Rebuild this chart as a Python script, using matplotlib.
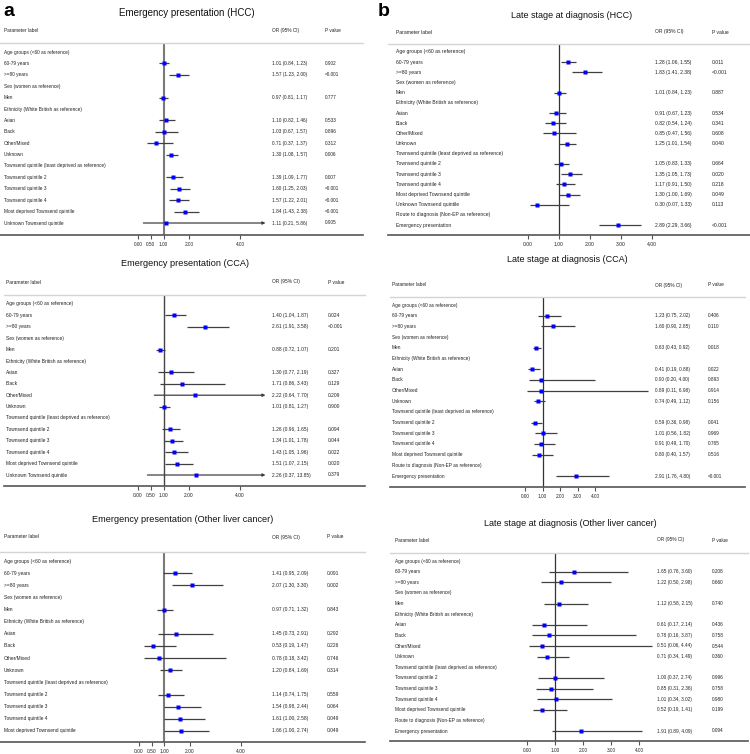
import numpy as np
import matplotlib
matplotlib.use("Agg")
import matplotlib.pyplot as plt
from matplotlib.transforms import blended_transform_factory

plt.rcParams['font.family'] = ['Liberation Sans', 'DejaVu Sans']

nan = np.nan
H_AGE = "Age groups (<60 as reference)"
H_SEX = "Sex (women as reference)"
H_ETH = "Ethnicity (White British as reference)"
H_TQ = "Townsend quintile (least deprived as reference)"
H_RT = "Route to diagnosis (Non-EP as reference)"

# ---------------- Emergency presentation (HCC) ----------------
ep_hcc_labels = [H_AGE, "60-79 years", ">=80 years", H_SEX, "Men", H_ETH, "Asian", "Black",
                 "Other/Mixed", "Unknown", H_TQ, "Townsend quintile 2", "Townsend quintile 3",
                 "Townsend quintile 4", "Most deprived Townsend quintile", "Unknown Townsend quintile"]
ep_hcc_or = [nan, 1.01, 1.57, nan, 0.97, nan, 1.10, 1.03, 0.71, 1.30, nan, 1.39, 1.60, 1.57, 1.84, 1.11]
ep_hcc_lo = [nan, 0.84, 1.23, nan, 0.81, nan, 0.82, 0.67, 0.37, 1.08, nan, 1.09, 1.25, 1.22, 1.43, 0.21]
ep_hcc_hi = [nan, 1.23, 2.00, nan, 1.17, nan, 1.46, 1.57, 1.37, 1.57, nan, 1.77, 2.03, 2.01, 2.38, 5.86]
ep_hcc_p = ["", "0.902", "<0.001", "", "0.777", "", "0.533", "0.896", "0.312", "0.006", "",
            "0.007", "<0.001", "<0.001", "<0.001", "0.905"]

# ---------------- Emergency presentation (CCA) ----------------
ep_cca_labels = list(ep_hcc_labels)
ep_cca_or = [nan, 1.40, 2.61, nan, 0.88, nan, 1.30, 1.71, 2.22, 1.01, nan, 1.26, 1.34, 1.43, 1.51, 2.26]
ep_cca_lo = [nan, 1.04, 1.91, nan, 0.72, nan, 0.77, 0.86, 0.64, 0.81, nan, 0.96, 1.01, 1.05, 1.07, 0.37]
ep_cca_hi = [nan, 1.87, 3.58, nan, 1.07, nan, 2.19, 3.43, 7.70, 1.27, nan, 1.65, 1.78, 1.96, 2.15, 13.85]
ep_cca_p = ["", "0.024", "<0.001", "", "0.201", "", "0.327", "0.129", "0.209", "0.900", "",
            "0.094", "0.044", "0.022", "0.020", "0.379"]

# ---------------- Emergency presentation (Other liver cancer) ----------------
ep_oth_labels = ep_hcc_labels[:-1]
ep_oth_or = [nan, 1.41, 2.07, nan, 0.97, nan, 1.45, 0.53, 0.78, 1.20, nan, 1.14, 1.54, 1.61, 1.66]
ep_oth_lo = [nan, 0.95, 1.30, nan, 0.71, nan, 0.73, 0.19, 0.18, 0.84, nan, 0.74, 0.98, 1.00, 1.00]
ep_oth_hi = [nan, 2.09, 3.30, nan, 1.32, nan, 2.91, 1.47, 3.42, 1.69, nan, 1.75, 2.44, 2.58, 2.74]
ep_oth_p = ["", "0.091", "0.002", "", "0.843", "", "0.292", "0.226", "0.746", "0.314", "",
            "0.559", "0.064", "0.049", "0.049"]

# ---------------- Late stage at diagnosis (HCC) ----------------
ls_hcc_labels = ep_hcc_labels + [H_RT, "Emergency presentation"]
ls_hcc_or = [nan, 1.28, 1.83, nan, 1.01, nan, 0.91, 0.82, 0.85, 1.25, nan, 1.05, 1.35, 1.17, 1.30, 0.30, nan, 2.89]
ls_hcc_lo = [nan, 1.06, 1.41, nan, 0.84, nan, 0.67, 0.54, 0.47, 1.01, nan, 0.83, 1.05, 0.91, 1.00, 0.07, nan, 2.29]
ls_hcc_hi = [nan, 1.55, 2.38, nan, 1.23, nan, 1.23, 1.24, 1.56, 1.54, nan, 1.33, 1.73, 1.50, 1.69, 1.33, nan, 3.66]
ls_hcc_p = ["", "0.011", "<0.001", "", "0.887", "", "0.534", "0.341", "0.608", "0.040", "",
            "0.664", "0.020", "0.218", "0.049", "0.113", "", "<0.001"]

# ---------------- Late stage at diagnosis (CCA) ----------------
ls_cca_labels = ep_hcc_labels[:-1] + [H_RT, "Emergency presentation"]
ls_cca_or = [nan, 1.23, 1.60, nan, 0.63, nan, 0.41, 0.90, 0.89, 0.74, nan, 0.59, 1.01, 0.91, 0.80, nan, 2.91]
ls_cca_lo = [nan, 0.75, 0.90, nan, 0.43, nan, 0.19, 0.20, 0.11, 0.49, nan, 0.36, 0.56, 0.49, 0.40, nan, 1.76]
ls_cca_hi = [nan, 2.02, 2.85, nan, 0.92, nan, 0.88, 4.00, 6.98, 1.12, nan, 0.98, 1.82, 1.70, 1.57, nan, 4.80]
ls_cca_p = ["", "0.406", "0.110", "", "0.018", "", "0.022", "0.893", "0.914", "0.156", "",
            "0.041", "0.969", "0.765", "0.516", "", "<0.001"]

# ---------------- Late stage at diagnosis (Other liver cancer) ----------------
ls_oth_labels = list(ls_cca_labels)
ls_oth_or = [nan, 1.65, 1.22, nan, 1.12, nan, 0.61, 0.78, 0.51, 0.71, nan, 1.00, 0.85, 1.01, 0.52, nan, 1.91]
ls_oth_lo = [nan, 0.76, 0.50, nan, 0.58, nan, 0.17, 0.16, 0.06, 0.34, nan, 0.37, 0.31, 0.34, 0.19, nan, 0.89]
ls_oth_hi = [nan, 3.60, 2.98, nan, 2.15, nan, 2.14, 3.87, 4.44, 1.49, nan, 2.74, 2.36, 3.02, 1.41, nan, 4.09]
ls_oth_p = ["", "0.208", "0.660", "", "0.740", "", "0.436", "0.758", "0.544", "0.360", "",
            "0.996", "0.758", "0.980", "0.199", "", "0.094"]

ticks_a = [0.0, 0.5, 1.0, 2.0, 4.0]
ticks_b = [0.0, 1.0, 2.0, 3.0, 4.0]

W, Hh = 750, 754
fig = plt.figure(figsize=(7.5, 7.54), dpi=100)

panels = [
    dict(title="Emergency presentation (HCC)", tsize=7.0, tx=187, ty=13,
         data=(ep_hcc_labels, ep_hcc_or, ep_hcc_lo, ep_hcc_hi, ep_hcc_p),
         left=0, right=363, x0=138, ppu=25.5, header_y=30, hline_y=43, first=52, gap=11.4,
         axis_y=235, ticks=ticks_a, clip=5.0, px_lab=4, px_or=272, px_p=325, fs=3.45,
         refc='#7a7a7a', reflw=1.5),
    dict(title="Emergency presentation (CCA)", tsize=6.6, tx=185, ty=264,
         data=(ep_cca_labels, ep_cca_or, ep_cca_lo, ep_cca_hi, ep_cca_p),
         left=4, right=365, x0=138, ppu=25.5, header_y=282, hline_y=295, first=304, gap=11.4,
         axis_y=486, ticks=ticks_a, clip=5.0, px_lab=6, px_or=272, px_p=328, fs=3.5,
         refc='#444444', reflw=1.0),
    dict(title="Emergency presentation (Other liver cancer)", tsize=6.6, tx=183, ty=519,
         data=(ep_oth_labels, ep_oth_or, ep_oth_lo, ep_oth_hi, ep_oth_p),
         left=0, right=365, x0=139, ppu=25.5, header_y=537, hline_y=552, first=561, gap=12.14,
         axis_y=742, ticks=ticks_a, clip=5.0, px_lab=4, px_or=272, px_p=327, fs=3.5,
         refc='#7a7a7a', reflw=1.5),
    dict(title="Late stage at diagnosis (HCC)", tsize=6.5, tx=572, ty=16,
         data=(ls_hcc_labels, ls_hcc_or, ls_hcc_lo, ls_hcc_hi, ls_hcc_p),
         left=388, right=750, x0=528, ppu=31.0, header_y=32, hline_y=44, first=52, gap=10.18,
         axis_y=235, ticks=ticks_b, clip=None, px_lab=396, px_or=655, px_p=712, fs=3.6,
         refc='#333333', reflw=0.9),
    dict(title="Late stage at diagnosis (CCA)", tsize=6.5, tx=567, ty=260,
         data=(ls_cca_labels, ls_cca_or, ls_cca_lo, ls_cca_hi, ls_cca_p),
         left=390, right=745, x0=525, ppu=17.6, header_y=285, hline_y=297, first=305, gap=10.69,
         axis_y=487, ticks=ticks_b, clip=None, px_lab=392, px_or=655, px_p=708, fs=3.45,
         refc='#333333', reflw=0.9),
    dict(title="Late stage at diagnosis (Other liver cancer)", tsize=6.5, tx=570, ty=523,
         data=(ls_oth_labels, ls_oth_or, ls_oth_lo, ls_oth_hi, ls_oth_p),
         left=390, right=748, x0=527.3, ppu=28.0, header_y=540, hline_y=553, first=561, gap=10.625,
         axis_y=741, ticks=ticks_b, clip=None, px_lab=395, px_or=657, px_p=712, fs=3.45,
         refc='#333333', reflw=0.9),
]

ci_color = '#404040'
txt_color = '#222222'

for P in panels:
    labels, orv, lo, hi, pv = P['data']
    ax = fig.add_axes([P['left'] / W, 1 - P['axis_y'] / Hh,
                       (P['right'] - P['left']) / W, (P['axis_y'] - P['hline_y']) / Hh])
    ax.set_xlim((P['left'] - P['x0']) / P['ppu'], (P['right'] - P['x0']) / P['ppu'])
    ax.set_ylim((P['axis_y'] - P['first']) / P['gap'], (P['hline_y'] - P['first']) / P['gap'])
    ax.patch.set_alpha(0)
    for s in ['left', 'right']:
        ax.spines[s].set_visible(False)
    ax.spines['top'].set_color('#d4d4d4')
    ax.spines['top'].set_linewidth(1.0)
    ax.spines['bottom'].set_color('#555555')
    ax.spines['bottom'].set_linewidth(1.2)
    ax.set_yticks([])
    ax.set_xticks(P['ticks'])
    ax.set_xticklabels([f"{t:.2f}" for t in P['ticks']])
    ax.tick_params(axis='x', length=3.2, width=0.8, color='#555555', pad=1.5,
                   labelsize=P['fs'], labelcolor=txt_color)
    ax.axvline(1.0, color=P['refc'], lw=P['reflw'], zorder=1)

    tr = blended_transform_factory(fig.transFigure, ax.transData)
    hy = (P['header_y'] - P['first']) / P['gap']
    ax.text(P['px_lab'] / W, hy, "Parameter label", transform=tr, fontsize=P['fs'],
            va='center', ha='left', color=txt_color)
    ax.text(P['px_or'] / W, hy, "OR (95% CI)", transform=tr, fontsize=P['fs'],
            va='center', ha='left', color=txt_color)
    ax.text(P['px_p'] / W, hy, "P value", transform=tr, fontsize=P['fs'],
            va='center', ha='left', color=txt_color)

    for i, lab in enumerate(labels):
        ax.text(P['px_lab'] / W, i, lab, transform=tr, fontsize=P['fs'],
                va='center', ha='left', color=txt_color)
        if np.isnan(orv[i]):
            continue
        ax.text(P['px_or'] / W, i, f"{orv[i]:.2f} ({lo[i]:.2f}, {hi[i]:.2f})", transform=tr,
                fontsize=P['fs'], va='center', ha='left', color=txt_color)
        ax.text(P['px_p'] / W, i, pv[i], transform=tr, fontsize=P['fs'],
                va='center', ha='left', color=txt_color)
        clip = P['clip']
        if clip is not None and hi[i] > clip:
            ax.annotate('', xy=(clip, i), xytext=(lo[i], i),
                        arrowprops=dict(arrowstyle='-|>', color=ci_color, lw=0.9,
                                        mutation_scale=4, shrinkA=0, shrinkB=0))
        else:
            ax.hlines(i, lo[i], hi[i], color=ci_color, lw=0.9, zorder=2)
        ax.plot(orv[i], i, 's', color='#0000ff', ms=2.2, mec='none', zorder=3)

    fig.text(P['tx'] / W, 1 - P['ty'] / Hh, P['title'], fontsize=P['tsize'],
             ha='center', va='center', color='#111111')

fig.text(3 / W, 1 - 16 / Hh, "a", fontsize=14, fontweight='bold', ha='left', va='baseline')
fig.text(378 / W, 1 - 16 / Hh, "b", fontsize=14, fontweight='bold', ha='left', va='baseline')

fig.savefig("out.png", dpi=100)
